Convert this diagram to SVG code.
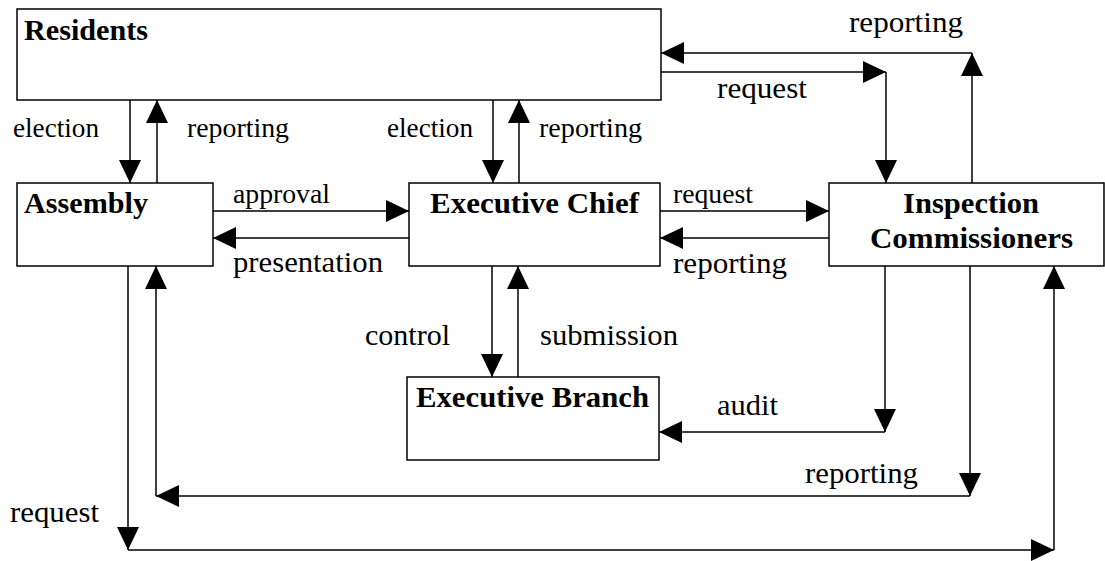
<svg xmlns="http://www.w3.org/2000/svg" width="1105" height="561" viewBox="0 0 1105 561">
  <style>
    .box { fill: #fff; stroke: #000; stroke-width: 1.5; }
    .lbl { font-family: "Liberation Serif", "Times New Roman", serif; font-size: 30px; fill: #000; }
    .sm { font-size: 28px; }
    .ttl { font-family: "Liberation Serif", "Times New Roman", serif; font-size: 30px; font-weight: bold; fill: #000; }
    .wire { fill: none; stroke: #000; stroke-width: 1.5; }
    .arr { marker-end: url(#head); }
  </style>
  <defs>
    <marker id="head" markerUnits="userSpaceOnUse" markerWidth="24" markerHeight="23" refX="23" refY="11" orient="auto">
      <path d="M0,0 L23,11 L0,22 Z" fill="#000"/>
    </marker>
  </defs>

  <rect width="1105" height="561" fill="#fff"/>

  <!-- connectors -->
  <g id="connectors">
    <!-- Residents / Assembly -->
    <line class="wire arr" x1="130" y1="100" x2="130" y2="183"/>
    <line class="wire arr" x1="157" y1="183" x2="157" y2="100"/>
    <!-- Residents / Executive Chief -->
    <line class="wire arr" x1="493" y1="100" x2="493" y2="183"/>
    <line class="wire arr" x1="519" y1="183" x2="519" y2="100"/>
    <!-- Inspection Commissioners reporting to Residents -->
    <line class="wire arr" x1="972" y1="183" x2="972" y2="53"/>
    <line class="wire arr" x1="972" y1="53" x2="661" y2="53"/>
    <!-- Residents request to Inspection Commissioners -->
    <line class="wire arr" x1="661" y1="72" x2="886" y2="72"/>
    <line class="wire arr" x1="886" y1="72" x2="886" y2="183"/>
    <!-- Assembly / Executive Chief -->
    <line class="wire arr" x1="213" y1="211" x2="409" y2="211"/>
    <line class="wire arr" x1="409" y1="238" x2="213" y2="238"/>
    <!-- Executive Chief / Inspection Commissioners -->
    <line class="wire arr" x1="660" y1="211" x2="829" y2="211"/>
    <line class="wire arr" x1="829" y1="238" x2="660" y2="238"/>
    <!-- Executive Chief / Executive Branch -->
    <line class="wire arr" x1="492" y1="266" x2="492" y2="377"/>
    <line class="wire arr" x1="518" y1="377" x2="518" y2="266"/>
    <!-- audit -->
    <line class="wire arr" x1="885" y1="266" x2="885" y2="432"/>
    <line class="wire arr" x1="885" y1="432" x2="659" y2="432"/>
    <!-- Inspection Commissioners reporting to Assembly -->
    <line class="wire arr" x1="970" y1="266" x2="970" y2="496"/>
    <line class="wire arr" x1="970" y1="496" x2="156" y2="496"/>
    <line class="wire arr" x1="156" y1="496" x2="156" y2="266"/>
    <!-- Assembly request to Inspection Commissioners -->
    <line class="wire arr" x1="128" y1="266" x2="128" y2="550"/>
    <line class="wire arr" x1="128" y1="550" x2="1054" y2="550"/>
    <line class="wire arr" x1="1054" y1="550" x2="1054" y2="266"/>
  </g>

  <!-- nodes -->
  <g id="residents">
    <rect class="box" x="17" y="9" width="644" height="91"/>
    <text class="ttl" x="24" y="40" textLength="124" lengthAdjust="spacingAndGlyphs">Residents</text>
  </g>
  <g id="assembly">
    <rect class="box" x="17" y="183" width="196" height="83"/>
    <text class="ttl" x="24" y="213" textLength="124" lengthAdjust="spacingAndGlyphs">Assembly</text>
  </g>
  <g id="executive-chief">
    <rect class="box" x="409" y="183" width="251" height="83"/>
    <text class="ttl" x="430" y="213" textLength="209" lengthAdjust="spacingAndGlyphs">Executive Chief</text>
  </g>
  <g id="inspection-commissioners">
    <rect class="box" x="829" y="183" width="275" height="83"/>
    <text class="ttl" x="903" y="213" textLength="136" lengthAdjust="spacingAndGlyphs">Inspection</text>
    <text class="ttl" x="870" y="248" textLength="203" lengthAdjust="spacingAndGlyphs">Commissioners</text>
  </g>
  <g id="executive-branch">
    <rect class="box" x="407" y="377" width="252" height="83"/>
    <text class="ttl" x="416" y="407" textLength="233" lengthAdjust="spacingAndGlyphs">Executive Branch</text>
  </g>

  <!-- connector labels -->
  <g id="labels">
    <text class="lbl sm" x="13" y="137" textLength="86" lengthAdjust="spacingAndGlyphs">election</text>
    <text class="lbl sm" x="187" y="137" textLength="102" lengthAdjust="spacingAndGlyphs">reporting</text>
    <text class="lbl sm" x="387" y="137" textLength="86" lengthAdjust="spacingAndGlyphs">election</text>
    <text class="lbl sm" x="539" y="137" textLength="103" lengthAdjust="spacingAndGlyphs">reporting</text>
    <text class="lbl" x="849" y="32" textLength="114" lengthAdjust="spacingAndGlyphs">reporting</text>
    <text class="lbl" x="717" y="98" textLength="90" lengthAdjust="spacingAndGlyphs">request</text>
    <text class="lbl sm" x="233" y="203" textLength="97" lengthAdjust="spacingAndGlyphs">approval</text>
    <text class="lbl" x="233" y="272" textLength="150" lengthAdjust="spacingAndGlyphs">presentation</text>
    <text class="lbl sm" x="673" y="203" textLength="80" lengthAdjust="spacingAndGlyphs">request</text>
    <text class="lbl" x="673" y="273" textLength="114" lengthAdjust="spacingAndGlyphs">reporting</text>
    <text class="lbl" x="365" y="345" textLength="85" lengthAdjust="spacingAndGlyphs">control</text>
    <text class="lbl" x="540" y="345" textLength="138" lengthAdjust="spacingAndGlyphs">submission</text>
    <text class="lbl" x="717" y="415" textLength="61" lengthAdjust="spacingAndGlyphs">audit</text>
    <text class="lbl" x="805" y="483" textLength="113" lengthAdjust="spacingAndGlyphs">reporting</text>
    <text class="lbl" x="10" y="522" textLength="89" lengthAdjust="spacingAndGlyphs">request</text>
  </g>
</svg>
